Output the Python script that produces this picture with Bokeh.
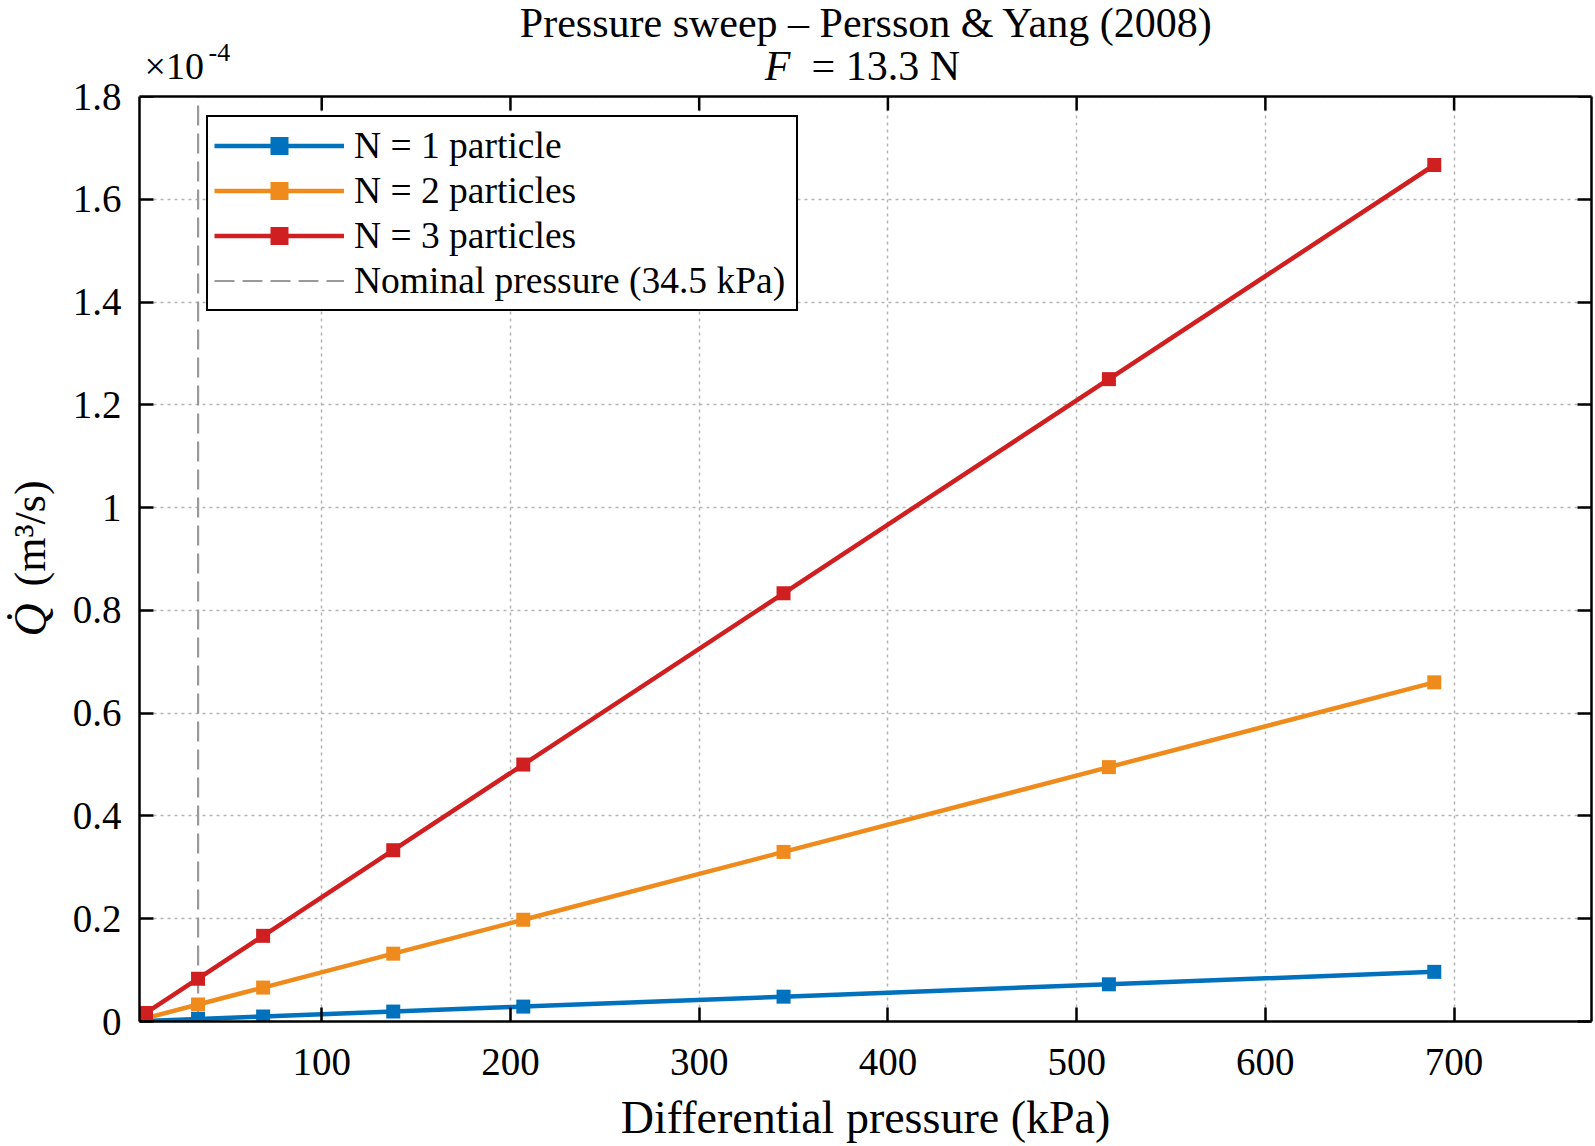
from bokeh.plotting import figure
from bokeh.layouts import row
from bokeh.models import (Range1d, LinearAxis, FixedTicker, CustomJSTickFormatter,
                          Label, Legend, LegendItem, Span, BoxAnnotation)
from bokeh.embed import file_html
from bokeh.resources import INLINE

# Differential pressure sweep (kPa) and volumetric flow rate (x 1e-4 m^3/s)
pressure_kpa = [6.895, 34.47, 68.95, 137.9, 206.8, 344.7, 517.1, 689.5]
flow_n1 = [0.0010, 0.0048, 0.0097, 0.0193, 0.0290, 0.0483, 0.0724, 0.0966]
flow_n2 = [0.0066, 0.0330, 0.0660, 0.1320, 0.1980, 0.3300, 0.4950, 0.6600]
flow_n3 = [0.0167, 0.0833, 0.1667, 0.3333, 0.5000, 0.8333, 1.2500, 1.6667]
series_labels = ["N = 1 particle", "N = 2 particles", "N = 3 particles"]
series_colors = ["#0072BD", "#EF8A1D", "#D01F20"]

nominal_pressure = 34.5
nominal_label = "Nominal pressure (34.5 kPa)"

x_ticks = [100, 200, 300, 400, 500, 600, 700]
y_ticks = [0, 0.2, 0.4, 0.6, 0.8, 1.0, 1.2, 1.4, 1.6, 1.8]
x_limits = (3.45, 772.8)
y_limits = (0.0, 1.8)

title_line1 = "Pressure sweep \u2013 Persson & Yang (2008)"
x_label = "Differential pressure (kPa)"

SERIF = "Liberation Serif"
PAGE_W, PAGE_H = 1595, 1146
STRIP_W = 62            # narrow column holding the vertical axis title
AXES_TOP = 96           # pixel row of the top of the axes box
AXES_BOTTOM_PAD = 125   # room for x tick labels and the x-axis title
TICK_LEN = 14

# The plotting frame runs to the top of the page so the title block can sit
# inside it; the axes box itself ends at y_limits[1].
frame_px = PAGE_H - AXES_BOTTOM_PAD
box_px = frame_px - AXES_TOP
y_per_px = (y_limits[1] - y_limits[0]) / box_px
y_frame_top = y_limits[0] + frame_px * y_per_px

p = figure(width=PAGE_W - STRIP_W, height=PAGE_H, output_backend="svg",
           toolbar_location=None, x_range=Range1d(*x_limits),
           y_range=Range1d(y_limits[0], y_frame_top),
           min_border_left=139 - STRIP_W, min_border_right=4, min_border_top=0,
           min_border_bottom=AXES_BOTTOM_PAD, background_fill_color="white",
           border_fill_color="white")
p.outline_line_color = None

xt = FixedTicker(ticks=x_ticks)
yt = FixedTicker(ticks=y_ticks)
num_fmt = CustomJSTickFormatter(code="return (Math.round(tick*10)/10).toString();")
blank_fmt = CustomJSTickFormatter(code="return '';")

for ax in p.xaxis:
    ax.ticker = xt
for ax in p.yaxis:
    ax.ticker = yt
    ax.formatter = num_fmt
    ax.bounds = y_limits

for ax in list(p.xaxis) + list(p.yaxis):
    ax.major_tick_in = TICK_LEN
    ax.major_tick_out = 0
    ax.minor_tick_in = 0
    ax.minor_tick_out = 0
    ax.axis_line_width = 2.5
    ax.major_tick_line_width = 2.5
    ax.axis_line_color = "black"
    ax.major_tick_line_color = "black"
    ax.major_label_text_font = SERIF
    ax.major_label_text_font_size = "39px"
    ax.major_label_text_color = "black"

p.xaxis.major_label_standoff = 27
p.yaxis.major_label_standoff = 18
p.xaxis.axis_label = x_label
p.xaxis.axis_label_text_font = SERIF
p.xaxis.axis_label_text_font_size = "46px"
p.xaxis.axis_label_text_font_style = "normal"
p.xaxis.axis_label_text_color = "black"
p.xaxis.axis_label_standoff = 14

# Right side of the box: inward ticks, no labels
p.add_layout(LinearAxis(ticker=yt, formatter=blank_fmt, bounds=y_limits,
                        major_tick_in=TICK_LEN, major_tick_out=0, minor_tick_in=0,
                        minor_tick_out=0, axis_line_width=2.5, major_tick_line_width=2.5,
                        major_label_standoff=0, major_label_text_font_size="0px"), "right")

for g in (p.xgrid, p.ygrid):
    g.grid_line_color = "#b4b4b4"
    g.grid_line_width = 1.5
    g.grid_line_dash = "3 4"

# Nominal operating pressure: vertical dashed line across the box height
nominal_line = p.line(x=[nominal_pressure, nominal_pressure], y=list(y_limits),
                      line_color="#9a9a9a", line_width=2.2, line_dash="20 8")

items = []
for flows, label, color in zip([flow_n1, flow_n2, flow_n3], series_labels, series_colors):
    r_line = p.line(pressure_kpa, flows, line_color=color, line_width=4.5)
    r_mark = p.scatter(pressure_kpa, flows, marker="square", size=14,
                       fill_color=color, line_color=color, line_width=0)
    items.append(LegendItem(label=label, renderers=[r_line, r_mark]))
items.append(LegendItem(label=nominal_label, renderers=[nominal_line]))

# Blank out the area above the box, then draw the box top with inward ticks
p.add_layout(BoxAnnotation(bottom=y_limits[1], fill_color="white", fill_alpha=1,
                           line_color=None))
p.add_layout(Span(location=y_limits[1], dimension="width", line_color="black",
                  line_width=2.5))
p.segment(x0=x_ticks, x1=x_ticks, y0=[y_limits[1]] * len(x_ticks),
          y1=[y_limits[1] - TICK_LEN * y_per_px] * len(x_ticks),
          line_color="black", line_width=2.5)

legend = Legend(items=items, location=(67, 710), border_line_color="black",
                border_line_width=2, border_line_alpha=1, background_fill_color="white",
                background_fill_alpha=1, label_text_font=SERIF,
                label_text_font_size="37.5px", label_text_color="black",
                glyph_width=130, glyph_height=45, label_height=45, label_width=436,
                label_standoff=10, spacing=0, padding=6, margin=0)
p.add_layout(legend, "center")


def canvas_label(fig, **kw):
    fig.add_layout(Label(x_units="canvas", y_units="canvas", text_font=SERIF,
                         text_color="black", text_baseline="alphabetic", **kw))


# Title block and axis multiplier (canvas pixels of the main figure)
canvas_label(p, x=866 - STRIP_W, y=22, text=title_line1, text_font_size="42px",
             text_align="center")
canvas_label(p, x=790 - STRIP_W, y=65, text="F", text_font_size="42px",
             text_font_style="italic", text_align="right")
canvas_label(p, x=811 - STRIP_W, y=65, text="= 13.3 N", text_font_size="42px",
             text_align="left")
canvas_label(p, x=144 - STRIP_W, y=65, text="\u00d710", text_font_size="38px",
             text_align="left")
canvas_label(p, x=208 - STRIP_W, y=52, text="-4", text_font_size="26px",
             text_align="left")

# Vertical axis title in its own narrow column
strip = figure(width=STRIP_W, height=PAGE_H, output_backend="svg", toolbar_location=None,
               x_axis_type=None, y_axis_type=None, x_range=Range1d(0, STRIP_W),
               y_range=Range1d(0, PAGE_H), min_border=0, outline_line_color=None,
               background_fill_color="white", border_fill_color="white")
canvas_label(strip, x=30, y=636, text="Q\u0307", text_font_size="46px",
             text_font_style="italic", angle=1.5708, text_align="left")
canvas_label(strip, x=30, y=586, text="(m\u00b3/s)", text_font_size="44px",
             angle=1.5708, text_align="left")

layout = row(strip, p, spacing=0)

open("out.html", "w").write(file_html(layout, INLINE))
